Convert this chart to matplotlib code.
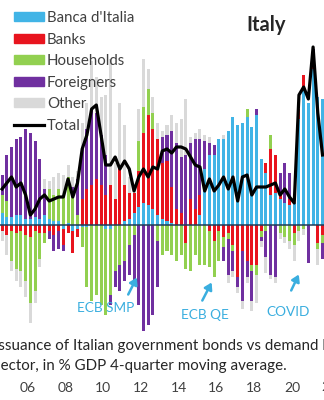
import numpy as np
import matplotlib
matplotlib.use('Agg')
import matplotlib.pyplot as plt
from matplotlib.patches import Patch
from matplotlib.lines import Line2D

plt.rcParams['font.family'] = ['Lato', 'DejaVu Sans']

# quarterly observations, 2004Q3 .. 2021Q3 (mid-quarter positions)
n_quarters = 69
dates = 2004.625 + 0.25 * np.arange(n_quarters)

# net purchases by sector, % GDP, 4-quarter moving average
banca_italia = [0.6, 0.4, 0.4, 0.5, 0.5, 0.3, 0.3, 0.4, 0.3, 0.5,
                0.3, 0.2, 0.2, -0.2, 0.1, -0.3, -0.2, -0.1, -0.1, 0.0,
                0.0, 0.0, -0.2, -0.2, 0.0, 0.0, 0.2, 0.3, 0.6, 0.9,
                1.1, 1.0, 0.8, 0.5, 0.3, 0.2, 0.1, 0.0, 0.0, 0.0,
                0.0, 0.0, 0.5, 2.8, 3.5, 3.5, 4.3, 4.3, 4.7, 5.4,
                5.0, 5.1, 5.4, 4.9, 5.5, 3.3, 2.6, 1.5, 1.6, 1.3,
                1.1, 1.0, 1.1, 5.3, 6.8, 6.1, 7.8, 6.4, 6.3]
banks = [-0.3, -0.5, -0.3, -0.4, -0.3, -0.5, -0.6, -0.3, -0.4, -0.4,
         -0.3, -0.5, -0.3, -0.8, -0.4, -1.1, -0.4, 1.3, 1.8, 2.0,
         2.3, 2.0, 1.5, 2.0, 1.3, 2.8, 1.8, 1.3, 1.0, 1.8,
         3.5, 4.5, 4.0, 3.8, 2.8, 3.0, 1.8, 0.8, 0.6, -0.9,
         1.3, 0.8, 1.0, 0.0, -0.3, -0.8, -0.3, -0.6, -0.4, -1.0,
         -2.6, -1.3, -1.8, -2.0, -2.0, -0.3, 0.5, 2.3, 1.9, 0.3,
         0.0, 0.3, -0.4, 0.5, 0.7, 0.0, 0.4, -0.9, -0.5]
households = [0.9, 0.8, -1.5, -1.8, -2.0, -2.3, -3.3, -3.0, -1.3, -0.5,
              1.5, 1.3, 1.6, 1.5, 2.3, 1.4, 0.5, -1.0, -3.0, -3.8,
              -3.5, -4.0, -4.3, -3.3, -2.3, -2.0, -1.8, -1.0, -0.5, 1.5,
              1.3, 1.3, 0.8, -0.8, -1.5, -1.3, -1.5, -1.8, -1.5, -1.3,
              -2.3, -1.5, -2.0, -2.0, -1.8, -1.8, -1.5, -0.5, -0.3, -0.3,
              0.0, 0.0, 0.4, -0.3, -0.5, -0.3, -0.3, 0.7, 0.0, -0.4,
              -0.6, -0.8, -0.6, -0.3, -0.2, 0.0, 0.0, -0.3, -0.4]
foreigners = [1.0, 2.3, 3.5, 3.8, 3.9, 4.5, 4.3, 3.8, 3.0, 1.3,
              -0.4, -0.8, -0.9, -0.3, 0.0, 0.5, 1.8, 2.5, 3.0, 3.8,
              3.3, 2.5, 2.0, -0.5, -0.8, -1.3, -1.0, -1.5, -2.3, -4.0,
              -5.3, -5.0, -4.5, -2.3, 1.3, 1.3, 2.8, 3.3, 2.8, 3.5,
              2.8, 3.5, 2.8, 1.4, 0.6, 0.5, 0.0, -0.7, -1.8, -1.0,
              -0.5, -2.5, -0.8, -1.5, 0.3, -0.2, -1.3, -2.5, -2.6, 1.0,
              2.0, 1.3, 0.0, 0.0, 0.0, -1.9, 0.6, 0.0, -0.8]
other = [-0.5, -1.0, -0.5, -0.6, -0.8, -0.8, -1.0, -0.6, -0.4, 0.5,
         0.4, 0.9, 0.8, 1.0, 0.6, 0.5, 0.4, 1.3, 1.3, 2.4,
         1.8, 1.9, 3.0, 6.3, 1.8, 3.3, 3.0, 0.8, 0.3, 1.6,
         2.4, 1.0, 0.8, 0.8, 0.3, 0.5, 0.8, 1.0, 1.9, 2.8,
         0.3, 0.3, 0.5, 0.3, 0.3, 0.0, 0.0, 0.2, -0.4, -0.3,
         -0.3, -0.4, -0.3, -0.5, -1.4, -0.3, -0.8, -0.2, -0.3, -0.3,
         -0.3, -0.4, -0.8, -0.5, -0.3, 0.0, 0.0, -0.8, 0.0]
total = [1.8, 2.1, 2.4, 1.9, 2.1, 1.5, 0.5, 0.8, 1.3, 1.5,
         1.2, 1.3, 1.4, 1.4, 2.3, 1.4, 2.1, 3.8, 4.5, 5.8,
         6.0, 4.5, 3.0, 3.0, 3.4, 2.8, 3.2, 2.8, 1.7, 2.4,
         2.8, 2.4, 2.9, 2.8, 3.7, 3.8, 3.6, 3.9, 3.9, 3.8,
         3.4, 3.0, 2.9, 1.7, 2.3, 1.7, 2.0, 2.4, 1.8, 2.4,
         1.2, 2.4, 2.5, 1.5, 1.9, 1.9, 1.9, 2.0, 2.1, 1.5,
         1.8, 1.4, 1.1, 6.5, 6.9, 6.3, 8.9, 5.6, 3.5]

sectors = ["Banca d'Italia", 'Banks', 'Households', 'Foreigners', 'Other']
colors = ['#41B4E6', '#E8141E', '#92D050', '#7030A0', '#D9D9D9']
years = [2006, 2008, 2010, 2012, 2014, 2016, 2018, 2020]
year_labels = ['06', '08', '10', '12', '14', '16', '18', '20']

fig = plt.figure(figsize=(3.24, 4.0), dpi=100)
ax = fig.add_axes([0, 22 / 400, 1, 378 / 400])

pos_base = np.zeros(n_quarters)
neg_base = np.zeros(n_quarters)
for vals, col in zip([banca_italia, banks, households, foreigners, other], colors):
    v = np.array(vals)
    up = np.where(v > 0, v, 0)
    dn = np.where(v < 0, v, 0)
    ax.bar(dates, up, width=0.16, bottom=pos_base, color=col, linewidth=0, zorder=2)
    ax.bar(dates, dn, width=0.16, bottom=neg_base, color=col, linewidth=0, zorder=2)
    pos_base += up
    neg_base += dn

ax.axhline(0, color='#1F3B57', lw=1.1, zorder=3)
ax.plot(dates, total, color='black', lw=2.3, zorder=4)

ax.set_xticks(years)
ax.set_xticklabels(year_labels, fontsize=10, color='#404040')
ax.tick_params(axis='x', length=0, pad=3)
ax.set_yticks([])
# limits after the ticks, otherwise set_xticks widens the view
ax.set_xlim(2004.515, 2021.704)
ax.set_ylim(-7.65, 11.25)
for s in ax.spines.values():
    s.set_visible(False)
# the 2022 label sits half off the right edge
ax.text(2022, -9 / 378, '22', transform=ax.get_xaxis_transform(), fontsize=10,
        color='#404040', ha='center', va='center', clip_on=False)

handles = [Patch(color=c) for c in colors] + [Line2D([], [], color='black', lw=2.3)]
leg = ax.legend(handles, sectors + ['Total'], loc='upper left',
                bbox_to_anchor=(14 / 324, 1 - 11 / 400), bbox_transform=fig.transFigure,
                frameon=False, fontsize=10.8, handlelength=2.0, handleheight=0.55,
                handletextpad=0.2, labelspacing=0.5, borderaxespad=0, borderpad=0)
for t in leg.get_texts():
    t.set_color('#404040')

fig.text(266 / 324, 1 - 25 / 400, 'Italy', fontsize=14.5, fontweight='bold',
         color='#262626', ha='center', va='center')

# policy annotations
blue = '#3AAEDF'
notes = [('ECB SMP', (2010.14, -4.15), (2011.25, -3.6), (2011.84, -2.5)),
         ('ECB QE', (2015.39, -4.5), (2015.18, -3.9), (2015.81, -2.75)),
         ('COVID', (2019.79, -4.35), (2019.90, -3.4), (2020.43, -2.35))]
for label, txt_xy, tail, head in notes:
    ax.text(*txt_xy, label, color=blue, fontsize=9.8, ha='center', va='center', zorder=5)
    ax.annotate('', xy=head, xytext=tail, zorder=5,
                arrowprops=dict(arrowstyle='-|>,head_width=0.25,head_length=0.4',
                                color=blue, lw=1.8))

fig.text(-6 / 324, 1 - 346 / 400, 'Issuance of Italian government bonds vs demand by',
         fontsize=10.9, color='#262626', ha='left', va='center')
fig.text(-6 / 324, 1 - 366 / 400, 'sector, in % GDP 4-quarter moving average.',
         fontsize=10.9, color='#262626', ha='left', va='center')

fig.savefig('out.png', dpi=100)
